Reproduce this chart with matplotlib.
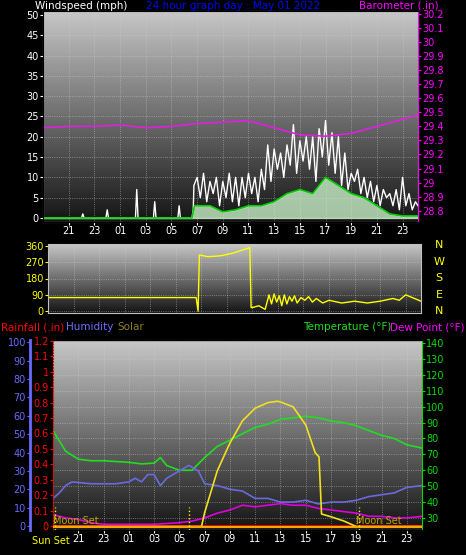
import numpy as np
import matplotlib
matplotlib.use("Agg")
import matplotlib.pyplot as plt

# hours since 19:00 of previous day (0 = 19:00, 5 = 00:00)
tick_hours = [2, 4, 6, 8, 10, 12, 14, 16, 18, 20, 22, 24, 26, 28]
tick_labels = ["21", "23", "01", "03", "05", "07", "09", "11", "13", "15", "17", "19", "21", "23"]

# barometer (in)
baro_t = [0, 2, 4, 6, 8, 10, 12, 14, 16, 18, 20, 22, 24, 26, 28, 29.2]
baro_v = [29.39, 29.40, 29.40, 29.41, 29.39, 29.40, 29.42, 29.43, 29.44, 29.39, 29.34, 29.33, 29.35, 29.40, 29.45, 29.48]

# wind gust (mph)
gust_t = [0, 3.0, 3.1, 3.2, 4.9, 5.0, 5.1, 7.2, 7.3, 7.4, 8.6, 8.7, 8.8, 10.5, 10.6, 10.7, 11.6, 11.7,
          11.75, 12.0, 12.25, 12.5, 12.75, 13.0, 13.25, 13.5, 13.75, 14.0, 14.25, 14.5, 14.75, 15.0,
          15.25, 15.5, 15.75, 16.0, 16.25, 16.5, 16.75, 17.0, 17.25, 17.5, 17.75, 18.0, 18.25, 18.5,
          18.75, 19.0, 19.25, 19.5, 19.75, 20.0, 20.25, 20.5, 20.75, 21.0, 21.25, 21.5, 21.75, 22.0,
          22.25, 22.5, 22.75, 23.0, 23.25, 23.5, 23.75, 24.0, 24.25, 24.5, 24.75, 25.0, 25.25, 25.5,
          25.75, 26.0, 26.25, 26.5, 26.75, 27.0, 27.25, 27.5, 27.75, 28.0, 28.25, 28.5, 28.75, 29.0, 29.2]
gust_v = [0, 0, 1, 0, 0, 2, 0, 0, 7, 0, 0, 4, 0, 0, 3, 0, 0, 2,
          8, 10, 5, 11, 4, 9, 6, 10, 3, 9, 5, 11, 4, 10, 3, 10,
          5, 11, 6, 10, 4, 12, 7, 18, 9, 17, 12, 16, 10, 18,
          13, 23, 11, 19, 14, 20, 12, 20, 9, 22, 15, 24, 13, 21, 11, 20,
          8, 16, 7, 11, 9, 12, 6, 10, 5, 9, 4, 8, 3, 7, 5, 6, 3, 7, 2, 10, 3, 6, 2, 4, 3]

# wind average (mph)
avg_t = [0, 11.6, 11.8, 12, 13, 14, 15, 16, 17, 18, 19, 20, 21, 22, 22.5, 23, 24, 25, 26, 27, 28, 29.2]
avg_v = [0, 0, 3, 3, 3, 1.5, 2, 3, 3, 4, 6, 7, 6, 10, 9, 8, 6, 5, 3, 1, 0.5, 0.5]

# wind direction (deg)
dir_t = [0, 11.6, 11.75, 11.85, 12.5, 13.5, 14.5, 15.8, 15.9, 16.0, 16.5, 17.0, 17.3, 17.5, 17.7, 17.9,
         18.1, 18.3, 18.5, 18.7, 18.9, 19.1, 19.3, 19.5, 19.8, 20.1, 20.4, 20.7, 21.0, 21.5, 22.0,
         23.0, 24.0, 25.0, 26.0, 27.0, 27.5, 28.0, 29.2]
dir_v = [75, 75, 0, 310, 300, 305, 320, 350, 20, 20, 30, 10, 90, 40, 95, 50, 85, 30, 90, 40, 80, 55, 85,
         45, 75, 60, 80, 50, 70, 45, 60, 45, 55, 45, 55, 70, 60, 90, 55]

# bottom panel
temp_t = [0, 1, 2, 3, 4, 6, 7, 8, 8.5, 9, 10, 11, 12, 13, 14, 15, 16, 17, 18, 19, 20, 21, 22, 23, 24, 25, 26, 27, 28, 29.2]
temp_v = [85, 72, 67, 66, 66, 65, 64, 64.5, 68, 63, 60, 60, 68, 75, 79, 83, 87, 89, 92, 93, 94, 93, 91, 90, 88, 85, 82, 80, 76, 74]
hum_t = [0, 0.5, 1, 1.5, 3, 5, 6, 6.5, 7, 7.5, 8, 8.5, 9, 10, 10.75, 11.5, 12, 13, 14, 15, 16, 17, 18, 19, 20, 21, 22, 23, 24, 25, 26, 27, 28, 29.2]
hum_v = [15, 18, 22, 24, 23, 23, 24, 26, 24, 28, 28, 22, 26, 30, 33, 30, 23, 22, 20, 19, 15, 15, 13, 13, 14, 12, 13, 13, 14, 16, 17, 18, 21, 22]
dew_t = [0, 1, 2, 3, 4, 6, 8, 10, 11, 12, 13, 14, 15, 16, 17, 18, 19, 20, 21, 22, 23, 24, 25, 26, 27, 28, 29.2]
dew_v = [32, 30, 29, 27, 26, 26, 26, 27, 28, 30, 33, 35, 38, 37, 38, 39, 38, 38, 36, 35, 34, 33, 31, 31, 30, 30, 31]
solar_t = [0, 11.75, 12, 13, 14, 15, 16, 17, 17.75, 18, 19, 20, 20.75, 21.05, 21.25, 22, 23, 24, 29.2]
solar_v = [0, 0, 100, 400, 600, 760, 850, 890, 900, 895, 860, 730, 530, 500, 90, 70, 40, 0, 0]
rain_t = [0, 29.2]
rain_v = [0, 0]

TXT = 7
fig = plt.figure(figsize=(4.66, 5.55), dpi=100, facecolor="black")
W, H = 466, 555


def box(x0, y0, x1, y1):
    return fig.add_axes([x0 / W, 1 - y1 / H, (x1 - x0) / W, (y1 - y0) / H])


def style(ax, light=0.78):
    grad = np.linspace(light, 0.08, 200).reshape(-1, 1)
    ax.imshow(grad, cmap="gray", vmin=0, vmax=1, aspect="auto", extent=[0, 1, 0, 1],
              transform=ax.transAxes, zorder=0)
    ax.set_facecolor("black")
    ax.grid(True, color="#d0d0d0", linestyle=":", linewidth=0.6, alpha=0.6)
    for s in ax.spines.values():
        s.set_color("#c0c0c0")
    ax.tick_params(labelsize=TXT, length=2, pad=1)


# ---------- wind / barometer ----------
ax1 = box(43, 11, 418, 222)
style(ax1)
ax1.fill_between(avg_t, avg_v, color="#c8f0c8", alpha=0.8, zorder=2)
ax1.plot(gust_t, gust_v, color="white", lw=1.0, zorder=3)
ax1.plot(avg_t, avg_v, color="#00cc00", lw=1.2, zorder=4)
ax1.set_xlim(0, 29.2)
ax1.set_ylim(-1, 51)
ax1.set_yticks(range(0, 51, 5))
ax1.set_xticks(tick_hours)
ax1.set_xticklabels(tick_labels, color="yellow")
ax1.tick_params(axis="y", colors="white", labelcolor="white")
ax1.tick_params(axis="x", colors="white")
ax1b = ax1.twinx()
ax1b.plot(baro_t, baro_v, color="#e020e0", lw=1.2)
ax1b.set_ylim(28.72, 30.22)
baro_ticks = np.round(np.arange(28.8, 30.21, 0.1), 1)
ax1b.set_yticks(baro_ticks)
ax1b.set_yticklabels([f"{v:g}" for v in baro_ticks])
ax1b.tick_params(axis="y", colors="#ff00ff", labelsize=TXT, length=2, pad=1)
ax1b.spines["right"].set_color("#ff00ff")
fig.text(35 / W, 1 - 6 / H, "Windspeed (mph)", color="white", fontsize=7.5, va="center")
fig.text(0.5, 1 - 6 / H, "24 hour graph day : May 01 2022", color="blue", fontsize=7.5, ha="center", va="center")
fig.text(439 / W, 1 - 6 / H, "Barometer (.in)", color="#ff00ff", fontsize=7.5, ha="right", va="center")

# ---------- direction ----------
ax2 = box(48, 244, 421, 313)
style(ax2)
ax2.plot(dir_t, dir_v, color="yellow", lw=1.0)
ax2.set_xlim(0, 29.2)
ax2.set_ylim(-10, 370)
ax2.set_yticks([0, 90, 180, 270, 360])
ax2.set_xticks(tick_hours)
ax2.set_xticklabels([])
ax2.tick_params(axis="y", colors="yellow")
for i, c in enumerate("NWSEN"):
    fig.text(439 / W, 1 - (245 + i * 16.5) / H, c, color="yellow", fontsize=8, ha="center", va="center")

# ---------- temp / humidity / rain / solar ----------
ax3 = box(53, 340, 422, 530)
style(ax3)
ax3.set_xlim(0, 29.2)
ax3.set_ylim(22.4, 142)
ax3.plot(temp_t, temp_v, color="#22dd22", lw=1.2, zorder=4)
ax3.plot(dew_t, dew_v, color="#e000e0", lw=1.2, zorder=4)
ax3.set_xticks(tick_hours)
ax3.set_xticklabels(tick_labels, color="yellow")
ax3.tick_params(axis="x", colors="white")

axh = ax3.twinx()
axr = ax3.twinx()
axs = ax3.twinx()

ax3.yaxis.tick_right()
ax3.spines["left"].set_visible(False)
ax3.set_yticks(range(30, 141, 10))
ax3.tick_params(axis="y", colors="#00dd00")
ax3.spines["right"].set_color("#00dd00")

axh.plot(hum_t, hum_v, color="#6a6ae0", lw=1.2)
axh.set_ylim(-2.2, 101.3)
axh.yaxis.tick_left()
axh.spines["left"].set_position(("outward", 16.5))
axh.spines["left"].set_color("#6a6aff")
axh.spines["left"].set_linewidth(2)
axh.spines["right"].set_visible(False)
axh.set_yticks(range(0, 101, 10))
axh.tick_params(axis="y", colors="#6a6aff", labelsize=TXT, length=2, pad=1)

axr.plot(rain_t, rain_v, color="red", lw=2)
axr.set_ylim(-0.026, 1.206)
axr.yaxis.tick_left()
axr.spines["left"].set_color("red")
axr.spines["left"].set_linestyle(":")
axr.spines["right"].set_visible(False)
rain_ticks = np.round(np.arange(0, 1.21, 0.1), 1)
axr.set_yticks(rain_ticks)
axr.set_yticklabels([f"{v:g}" for v in rain_ticks])
axr.tick_params(axis="y", colors="red", labelsize=TXT, length=2, pad=1)

axs.plot(solar_t, solar_v, color="#f0e020", lw=1.2)
axs.axhline(0, color="orange", lw=1.5)
axs.set_ylim(-25, 1340)
axs.set_yticks([])
axs.spines["left"].set_visible(False)
axs.spines["right"].set_visible(False)
for x in [0.15, 10.75, 24.25]:
    axs.axvline(x, ymax=0.12, color="yellow", ls=":", lw=1)
axs.text(0.0, 5, "Moon Set", color="#c0a000", fontsize=TXT, va="bottom")
axs.text(24.0, 5, "Moon Set", color="#c0a000", fontsize=TXT, va="bottom")
for a in (axh, axr, axs):
    a.patch.set_visible(False)

fig.text(70 / W, 1 - 541 / H, "Sun Set", color="yellow", fontsize=TXT, va="center", ha="right")
fig.text(1 / W, 1 - 327 / H, "Rainfall (.in)", color="red", fontsize=7.5, va="center")
fig.text(66 / W, 1 - 327 / H, "Humidity", color="#7070ff", fontsize=7.5, va="center")
fig.text(117 / W, 1 - 327 / H, "Solar", color="#908020", fontsize=7.5, va="center")
fig.text(391 / W, 1 - 327 / H, "Temperature (°F)", color="#22dd22", fontsize=7.5, va="center", ha="right")
fig.text(464 / W, 1 - 327 / H, "Dew Point (°F)", color="#ff00ff", fontsize=7.5, va="center", ha="right")

fig.savefig("out.png", dpi=100, facecolor="black")
